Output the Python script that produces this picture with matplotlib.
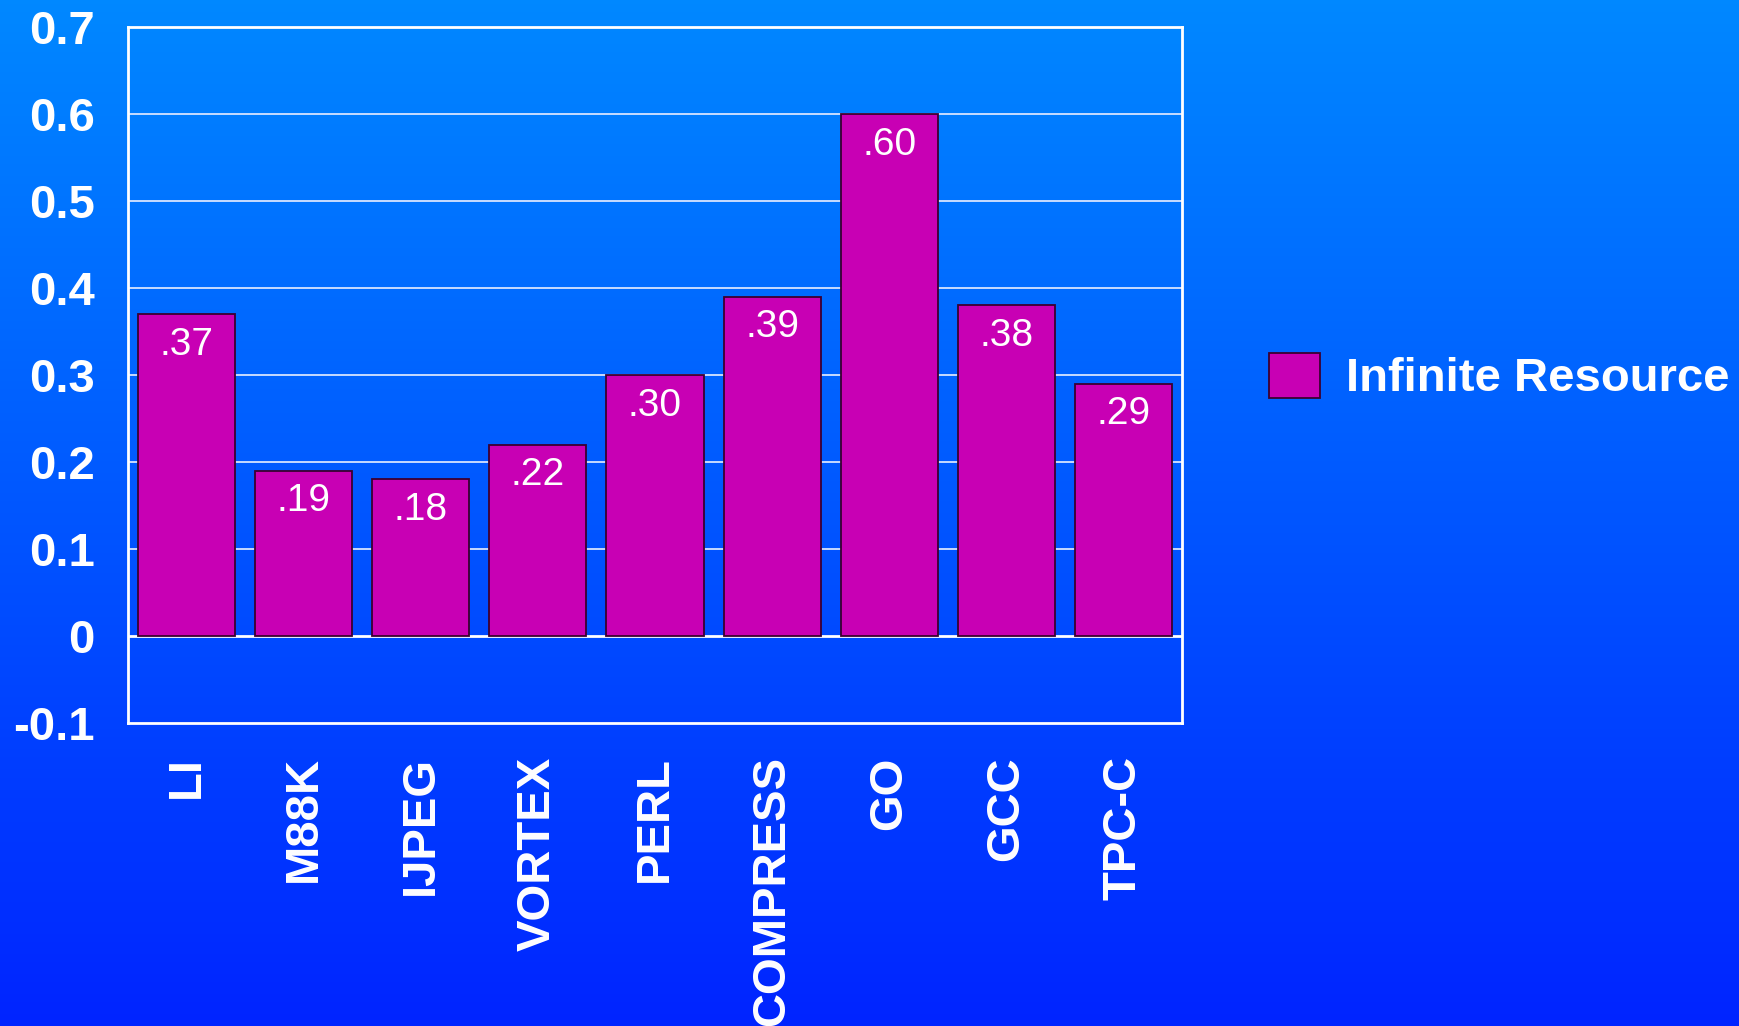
import numpy as np
import matplotlib
matplotlib.use("Agg")
import matplotlib.pyplot as plt
from matplotlib.colors import LinearSegmentedColormap

plt.rcParams["font.family"] = ["Liberation Sans", "DejaVu Sans"]

benchmarks = ["LI", "M88K", "IJPEG", "VORTEX", "PERL", "COMPRESS", "GO", "GCC", "TPC-C"]
infinite_resource = [0.37, 0.19, 0.18, 0.22, 0.30, 0.39, 0.60, 0.38, 0.29]
y_ticks = [-0.1, 0, 0.1, 0.2, 0.3, 0.4, 0.5, 0.6, 0.7]
y_tick_labels = ["-0.1", "0", "0.1", "0.2", "0.3", "0.4", "0.5", "0.6", "0.7"]

W, H = 1739, 1026
fig = plt.figure(figsize=(W / 100, H / 100), dpi=100)

# vertical blue gradient behind everything
bg = fig.add_axes([0, 0, 1, 1], zorder=-10)
cmap = LinearSegmentedColormap.from_list("bg", ["#0088ff", "#0024ff"])
bg.imshow(np.linspace(0, 1, 256).reshape(-1, 1), aspect="auto", cmap=cmap,
          extent=[0, 1, 0, 1])
bg.axis("off")

ax = fig.add_axes([128 / W, 1 - 723 / H, (1182 - 128) / W, (723 - 27) / H])
ax.set_facecolor("none")

x = np.arange(len(benchmarks))
bars = ax.bar(x, infinite_resource, width=0.83, color="#c800b4",
              edgecolor="#3a0030", linewidth=1.3, zorder=3,
              label="Infinite Resource")

for xi, v in zip(x, infinite_resource):
    ax.annotate(f".{int(round(v * 100)):02d}", (xi, v), xytext=(0, -22),
                textcoords="offset points", ha="center", va="center",
                color="white", fontsize=28)

ax.set_xlim(-0.5, len(benchmarks) - 0.5)
ax.set_ylim(-0.1, 0.7)
ax.set_yticks(y_ticks)
ax.set_yticklabels(y_tick_labels)
ax.set_xticks(x)
ax.set_xticklabels(benchmarks, rotation=90, va="top", ha="center")
ax.tick_params(length=0, colors="white", labelsize=34, pad=24)
for lbl in ax.get_xticklabels() + ax.get_yticklabels():
    lbl.set_fontweight("bold")

for yv in [0.1, 0.2, 0.3, 0.4, 0.5, 0.6]:
    ax.axhline(yv, color="#d8e4ff", linewidth=1.3, zorder=1)
ax.axhline(0, color="white", linewidth=2, zorder=2)
for s in ax.spines.values():
    s.set_color("white")
    s.set_linewidth(2)

leg = ax.legend(loc="center left", bbox_to_anchor=(1269 / W, 1 - 377 / H),
                bbox_transform=fig.transFigure, frameon=False,
                borderpad=0, borderaxespad=0, handlelength=1.08,
                handleheight=1.08, handletextpad=0.55,
                prop={"size": 34, "weight": "bold"})
for t in leg.get_texts():
    t.set_color("white")

fig.savefig("out.png", dpi=100)
